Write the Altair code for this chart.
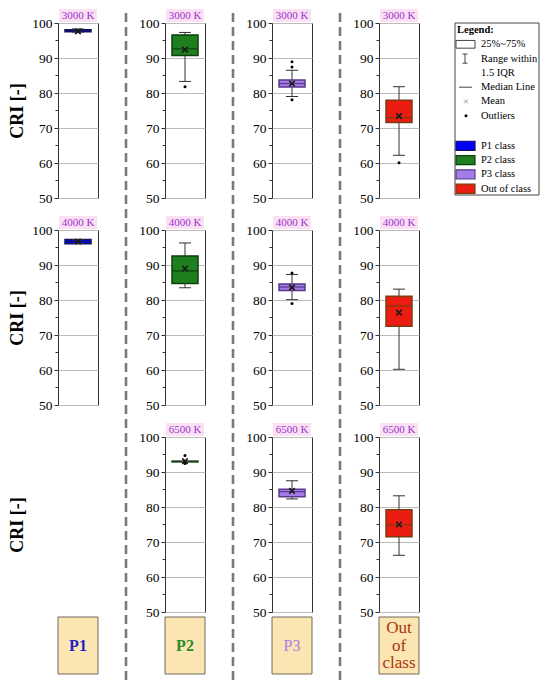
import altair as alt
import pandas as pd

# ---------------- data ----------------
classes = ["P1", "P2", "P3", "Out of class"]
class_labels = ["P1", "P2", "P3", "Out\nof\nclass"]
temps = ["3000 K", "4000 K", "6500 K"]

class_fill = ["#0000ff", "#1f7f1f", "#a47ce6", "#ec1c12"]
class_stroke = ["#121260", "#0e400e", "#5a3a8c", "#7c3c12"]
label_color = ["#1e1ec8", "#2b8a2b", "#b07ce6", "#a8360f"]
label_weight = ["bold", "bold", "normal", "normal"]
label_size = [16, 16, 16, 17]

box_temp = ["3000 K"] * 4 + ["4000 K"] * 4 + ["6500 K"] * 3
box_class = classes + classes + classes[1:]
q1 = [97.5, 90.7, 81.7, 71.6, 96.1, 84.7, 82.7, 72.5, 92.9, 82.9, 71.5]
q3 = [98.1, 96.6, 83.7, 77.9, 97.3, 92.6, 84.6, 81.1, 93.1, 85.1, 79.2]
median = [97.8, 92.6, 82.7, 73.0, 96.7, 88.3, 83.7, 78.3, 93.0, 84.4, 74.9]
mean = [97.6, 92.4, 82.7, 73.4, 96.7, 89.0, 83.6, 76.4, 93.1, 84.6, 75.0]
whisk_lo = [97.4, 83.3, 79.0, 62.2, 96.2, 83.5, 80.1, 60.2, 93.0, 82.3, 66.2]
whisk_hi = [98.3, 97.3, 86.5, 81.8, 97.2, 96.3, 87.3, 83.1, 93.0, 87.5, 83.2]

out_temp = ["3000 K", "3000 K", "3000 K", "3000 K", "3000 K", "4000 K", "4000 K", "6500 K", "6500 K"]
out_class = ["P2", "P3", "P3", "P3", "Out of class", "P3", "P3", "P2", "P2"]
out_val = [81.8, 88.9, 87.4, 78.1, 60.1, 87.7, 79.0, 94.7, 92.4]

y_major = [50, 60, 70, 80, 90, 100]
y_minor = [55, 65, 75, 85, 95]

legend_labels = ["Legend:", "25%~75%", "Range within", "1.5 IQR", "Median Line",
                 "Mean", "Outliers", "P1 class", "P2 class", "P3 class", "Out of class"]
legend_slots = [0, 1, 2, 3, 4, 5, 6, 8.1, 9.1, 10.1, 11.1]

box_df = pd.DataFrame({"temp": box_temp, "cls": box_class, "q1": q1, "q3": q3,
                       "median": median, "mean": mean, "lo": whisk_lo, "hi": whisk_hi})
out_df = pd.DataFrame({"temp": out_temp, "cls": out_class, "val": out_val})
minor_df = pd.DataFrame({"m": y_minor})

FONT = "Liberation Serif"
PW, PH = 40, 175
LABEL_LH = 17.5
yscale = alt.Scale(domain=[50, 100], nice=False, zero=False)


def yaxis(visible=True):
    return alt.Axis(values=y_major, grid=visible, gridColor="#bcbcbc", gridWidth=1,
                    domain=False, ticks=True, tickSize=4,
                    tickColor="#333333" if visible else "transparent",
                    labelFont=FONT, labelFontSize=13.5,
                    labelColor="black" if visible else "transparent", labelPadding=2,
                    titleFont=FONT, titleFontSize=18, titleFontWeight="bold",
                    titleColor="black", titlePadding=5)


def Y(field, title, visible=True):
    return alt.Y(f"{field}:Q", scale=yscale, axis=yaxis(visible), title=title)


def class_label_layers(ci):
    d = pd.DataFrame({"lab": [class_labels[ci]]})
    n_lines = class_labels[ci].count("\n") + 1
    y_first = PH + 33.5 - (n_lines - 1) * LABEL_LH / 2
    return [
        alt.Chart(d).mark_rect(fill="#fbe5b2", stroke="#6e6a5a", strokeWidth=1).encode(
            x=alt.value(0), x2=alt.value(PW), y=alt.value(PH + 5), y2=alt.value(PH + 62)),
        alt.Chart(d).mark_text(font=FONT, fontSize=label_size[ci], fontWeight=label_weight[ci],
                               color=label_color[ci], baseline="middle", align="center",
                               lineBreak="\n", lineHeight=LABEL_LH).encode(
            x=alt.value(PW / 2), y=alt.value(y_first), text="lab:N"),
    ]


def panel(ti, ci):
    t, c = temps[ti], classes[ci]
    title = "CRI [-]" if ci == 0 else None
    b = box_df[(box_df.temp == t) & (box_df.cls == c)]
    o = out_df[(out_df.temp == t) & (out_df.cls == c)]
    base = alt.Chart(b)
    layers = [
        base.mark_rule(color="#333333", strokeWidth=1).encode(
            x=alt.value(20), y=Y("lo", title), y2="hi"),
        base.mark_rect(fill=class_fill[ci], stroke=class_stroke[ci], strokeWidth=1.5).encode(
            x=alt.value(7), x2=alt.value(33), y=Y("q1", title), y2="q3"),
        base.mark_rule(color=class_stroke[ci], strokeWidth=1.2).encode(
            x=alt.value(7), x2=alt.value(33), y=Y("median", title)),
        base.mark_rule(color="#333333", strokeWidth=1).encode(
            x=alt.value(14), x2=alt.value(26), y=Y("lo", title)),
        base.mark_rule(color="#333333", strokeWidth=1).encode(
            x=alt.value(14), x2=alt.value(26), y=Y("hi", title)),
        base.mark_point(shape="M-1,-1L1,1M-1,1L1,-1", size=30, strokeWidth=1.6,
                        color="#1a1a1a", filled=False, opacity=1).encode(
            x=alt.value(20), y=Y("mean", title)),
        alt.Chart(minor_df).mark_rule(color="#333333", strokeWidth=1).encode(
            x=alt.value(-2.5), x2=alt.value(0), y=Y("m", title)),
        base.mark_rect(fill="#fbe0f4").encode(
            x=alt.value(1), x2=alt.value(39), y=alt.value(-14), y2=alt.value(-1)),
        base.mark_text(font=FONT, fontSize=11, color="#9b30d0", baseline="middle").encode(
            x=alt.value(20), y=alt.value(-7.5), text="temp:N"),
    ]
    if len(o):
        layers.append(alt.Chart(o).mark_circle(size=9, color="black", opacity=1).encode(
            x=alt.value(20), y=Y("val", title)))
    if ti == 0 and ci > 0:
        layers.append(base.mark_rule(color="#7a7a7a", strokeWidth=2.6, strokeDash=[9, 5]).encode(
            x=alt.value(-39), y=alt.value(-10), y2=alt.value(660)))
    if ti == 2:
        layers += class_label_layers(ci)
    return alt.layer(*layers).properties(
        width=PW, height=PH,
        view=alt.ViewBackground(fill="white", stroke="#333333", strokeWidth=1))


def placeholder():
    d = pd.DataFrame({"v": [50]})
    layers = [alt.Chart(d).mark_point(opacity=0).encode(y=Y("v", "CRI [-]", visible=False))]
    layers += class_label_layers(0)
    return alt.layer(*layers).properties(
        width=PW, height=PH,
        view=alt.ViewBackground(fill="transparent", stroke="transparent"))


def empty_cell():
    return alt.Chart(pd.DataFrame({"a": [0]})).mark_point(opacity=0).encode(
        x=alt.value(0), y=alt.value(0)
    ).properties(width=1, height=1,
                 view=alt.ViewBackground(fill="transparent", stroke="transparent"))


# ---------------- legend ----------------
LX = -31  # legend box starts 31px left of its grid cell
LW = 53
ly = alt.Scale(domain=[-0.49, 11.54], reverse=True)


def LY(f):
    return alt.Y(f"{f}:Q", scale=ly, axis=None)


leg_df = pd.DataFrame({"label": legend_labels, "slot": legend_slots})
leg_df["lo"] = leg_df["slot"] - 0.27
leg_df["hi"] = leg_df["slot"] + 0.27
leg_df["wlo"] = leg_df["slot"] - 0.32
leg_df["whi"] = leg_df["slot"] + 0.32
cls_df = leg_df.iloc[7:].copy()
cls_df["fill"] = class_fill
cls_df["stroke"] = class_stroke

legend = alt.layer(
    alt.Chart(leg_df.iloc[:1]).mark_rect(fill="white", stroke="#444444", strokeWidth=1).encode(
        x=alt.value(LX), x2=alt.value(LW), y=alt.value(0), y2=alt.value(172)),
    alt.Chart(leg_df.iloc[:1]).mark_text(align="left", baseline="middle", font=FONT,
                                         fontSize=10.5, fontWeight="bold", color="black").encode(
        x=alt.value(LX + 2), y=LY("slot"), text="label:N"),
    alt.Chart(leg_df.iloc[1:]).mark_text(align="left", baseline="middle", font=FONT,
                                         fontSize=10.5, color="black").encode(
        x=alt.value(LX + 26), y=LY("slot"), text="label:N"),
    alt.Chart(leg_df.iloc[1:2]).mark_rect(fill="white", stroke="#444444", strokeWidth=1).encode(
        x=alt.value(LX + 1), x2=alt.value(LX + 20), y=LY("lo"), y2="hi"),
    alt.Chart(leg_df.iloc[2:3]).mark_rule(color="#444444").encode(
        x=alt.value(LX + 10), y=LY("wlo"), y2="whi"),
    alt.Chart(leg_df.iloc[2:3]).mark_rule(color="#444444").encode(
        x=alt.value(LX + 7.5), x2=alt.value(LX + 12.5), y=LY("wlo")),
    alt.Chart(leg_df.iloc[2:3]).mark_rule(color="#444444").encode(
        x=alt.value(LX + 7.5), x2=alt.value(LX + 12.5), y=LY("whi")),
    alt.Chart(leg_df.iloc[4:5]).mark_rule(color="#444444").encode(
        x=alt.value(LX + 4), x2=alt.value(LX + 17), y=LY("slot")),
    alt.Chart(leg_df.iloc[5:6]).mark_point(shape="M-1,-1L1,1M-1,1L1,-1", size=14, strokeWidth=1,
                                           color="#999999", filled=False, opacity=1).encode(
        x=alt.value(LX + 11), y=LY("slot")),
    alt.Chart(leg_df.iloc[6:7]).mark_circle(size=9, color="black", opacity=1).encode(
        x=alt.value(LX + 11), y=LY("slot")),
    alt.Chart(cls_df).mark_rect(strokeWidth=1.2).encode(
        x=alt.value(LX + 1), x2=alt.value(LX + 20), y=LY("wlo"), y2="whi",
        fill=alt.Fill("fill:N", scale=None), stroke=alt.Stroke("stroke:N", scale=None)),
).properties(width=LW, height=172,
             view=alt.ViewBackground(fill="transparent", stroke="transparent"))

cells = [panel(0, c) for c in range(4)] + [legend]
cells += [panel(1, c) for c in range(4)] + [empty_cell()]
cells += [placeholder()] + [panel(2, c) for c in range(1, 4)] + [empty_cell()]

chart = alt.concat(*cells, columns=5, spacing={"row": 32, "column": 67},
                   bounds="flush").properties(padding=0, background="white")

chart.save("out.html", embed_options={"renderer": "svg", "actions": False})
